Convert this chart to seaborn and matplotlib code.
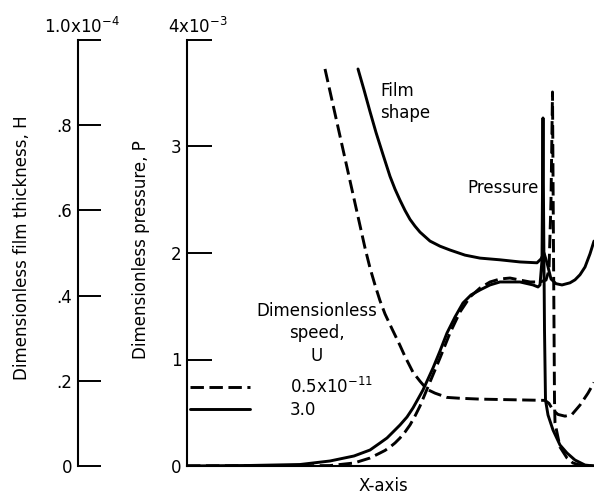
import matplotlib
matplotlib.use("Agg")
import matplotlib.pyplot as plt
import seaborn as sns
import numpy as np
import pandas as pd

# ---------------- data ----------------
# X in arbitrary units (axis has no tick marks); P in units of 1e-3; H in units of 1e-4
p_solid_x = [0, 0.63, 1.13, 1.43, 1.67, 1.83, 1.93, 2.00, 2.06, 2.13, 2.20, 2.26, 2.31,
             2.36, 2.41, 2.46, 2.53, 2.60, 2.68, 2.76, 2.84, 2.93, 3.03, 3.13, 3.33, 3.46,
             3.51, 3.53, 3.55, 3.56, 3.565, 3.575, 3.585, 3.61, 3.66, 3.73, 3.80, 3.88,
             3.98, 4.07]
p_solid_y = [0, 0.005, 0.014, 0.047, 0.094, 0.150, 0.216, 0.263, 0.319, 0.385, 0.460,
             0.545, 0.629, 0.714, 0.817, 0.920, 1.080, 1.249, 1.399, 1.531, 1.606, 1.653,
             1.700, 1.728, 1.728, 1.700, 1.681, 1.700, 1.934, 3.268, 2.498, 1.277, 0.620,
             0.479, 0.338, 0.197, 0.122, 0.056, 0.009, 0]

p_dash_x = [0, 1.13, 1.43, 1.67, 1.83, 1.93, 1.98, 2.03, 2.08, 2.13, 2.18, 2.23, 2.28,
            2.33, 2.38, 2.43, 2.53, 2.63, 2.73, 2.83, 2.93, 3.03, 3.13, 3.23, 3.33, 3.43,
            3.53, 3.59, 3.62, 3.64, 3.655, 3.665, 3.675, 3.68, 3.73, 3.80, 3.86, 3.93, 4.07]
p_dash_y = [0.002, 0.002, 0.004, 0.028, 0.075, 0.122, 0.146, 0.178, 0.216, 0.263, 0.319,
            0.385, 0.469, 0.563, 0.676, 0.789, 1.014, 1.249, 1.446, 1.587, 1.671, 1.728,
            1.756, 1.765, 1.746, 1.728, 1.728, 1.746, 1.840, 2.498, 3.512, 2.028, 0.620,
            0.404, 0.178, 0.075, 0.028, 0.009, 0]

h_solid_x = [1.71, 1.77, 1.83, 1.89, 1.96, 2.03, 2.08, 2.13, 2.18, 2.23, 2.28, 2.33, 2.43,
             2.53, 2.63, 2.78, 2.93, 3.13, 3.33, 3.50, 3.54, 3.57, 3.60, 3.64, 3.69, 3.75,
             3.83, 3.88, 3.93, 3.98, 4.03, 4.07]
h_solid_y = [0.932, 0.883, 0.832, 0.783, 0.731, 0.680, 0.650, 0.624, 0.600, 0.579, 0.563,
             0.549, 0.528, 0.516, 0.507, 0.495, 0.488, 0.484, 0.479, 0.477, 0.486, 0.500,
             0.477, 0.439, 0.428, 0.425, 0.430, 0.437, 0.449, 0.467, 0.498, 0.528]

h_dash_x = [1.38, 1.48, 1.58, 1.68, 1.78, 1.83, 1.88, 1.93, 1.98, 2.05, 2.13, 2.18, 2.26,
            2.33, 2.40, 2.48, 2.60, 2.73, 2.93, 3.58, 3.62, 3.66, 3.71, 3.78, 3.85, 3.93,
            4.01, 4.07]
h_dash_y = [0.932, 0.827, 0.722, 0.617, 0.512, 0.465, 0.425, 0.388, 0.357, 0.322, 0.283,
            0.257, 0.220, 0.199, 0.180, 0.171, 0.161, 0.159, 0.157, 0.154, 0.147, 0.131,
            0.121, 0.117, 0.121, 0.143, 0.171, 0.196]

p_ticks = [0, 1, 2, 3, 4]
p_ticklabels = ["0", "1", "2", "3", ""]
h_ticks = [0, 0.2, 0.4, 0.6, 0.8, 1.0]
h_ticklabels = ["0", ".2", ".4", ".6", ".8", ""]
legend_labels = ["0.5x10$^{-11}$", "3.0"]

# ---------------- figure ----------------
sns.set_theme(style="white")
plt.rcParams["font.family"] = ["DejaVu Sans"]
plt.rcParams["mathtext.fontset"] = "dejavusans"

W, H = 594, 496
fig = plt.figure(figsize=(W / 100, H / 100), dpi=100)
fig.patch.set_facecolor("white")

ax = fig.add_axes([187 / W, 30 / H, 407 / W, 426 / H])
ax.set_facecolor("none")
ax.set_xlim(0, 4.07)
ax.set_ylim(0, 4)

ax2 = ax.twinx()
ax2.set_ylim(0, 1.0)

LW = 2.1
DASH = (0, (4.6, 1.9))
common = dict(color="black", linewidth=LW, sort=False, estimator=None, legend=False,
              solid_joinstyle="round", dash_joinstyle="round")

sns.lineplot(x=p_dash_x, y=p_dash_y, ax=ax, linestyle=DASH, **common)
sns.lineplot(x=p_solid_x, y=p_solid_y, ax=ax, **common)
sns.lineplot(x=h_dash_x, y=h_dash_y, ax=ax2, linestyle=DASH, **common)
sns.lineplot(x=h_solid_x, y=h_solid_y, ax=ax2, **common)

# main (pressure) axis styling
for s in ["top", "right"]:
    ax.spines[s].set_visible(False)
for s in ["left", "bottom"]:
    ax.spines[s].set_color("black")
    ax.spines[s].set_linewidth(1.5)
ax.set_xticks([])
ax.set_yticks(p_ticks)
ax.set_yticklabels(p_ticklabels)
ax.tick_params(axis="y", direction="in", length=18, width=1.4, color="black",
               left=True, pad=4, labelsize=12, labelcolor="black")
ax.set_xlabel("")
ax.set_ylabel("")

# film thickness axis on far left
for s in ["top", "right", "bottom"]:
    ax2.spines[s].set_visible(False)
ax2.spines["left"].set_visible(True)
ax2.spines["left"].set_position(("axes", (78 - 187) / 407))
ax2.spines["left"].set_color("black")
ax2.spines["left"].set_linewidth(1.5)
ax2.yaxis.set_ticks_position("left")
ax2.yaxis.set_label_position("left")
ax2.set_yticks(h_ticks)
ax2.set_yticklabels(h_ticklabels)
ax2.tick_params(axis="y", direction="in", length=16.5, width=1.4, color="black",
                left=True, right=False, pad=4, labelsize=12, labelcolor="black")
ax2.set_ylabel("")

# legend
handles = ax.get_lines()[:2]
leg = ax.legend(handles, legend_labels, loc="upper left",
                bbox_to_anchor=(190 / W, 1 - 377 / H), bbox_transform=fig.transFigure,
                frameon=False, fontsize=12, handlelength=3.6, handletextpad=2.4,
                labelspacing=0.25, borderpad=0, borderaxespad=0)
for t in leg.get_texts():
    t.set_color("black")

def fx(px):
    return px / W

def fy(py):
    return 1 - py / H

fig.text(fx(317), fy(333.5), "Dimensionless\nspeed,\nU", ha="center", va="center",
         multialignment="center", linespacing=1.3, fontsize=12, color="black")
fig.text(fx(380), fy(102), "Film\nshape", ha="left", va="center", linespacing=1.3,
         fontsize=12, color="black")
fig.text(fx(539), fy(188), "Pressure", ha="right", va="center", fontsize=12, color="black")

fig.text(fx(82), fy(27), "1.0x10$^{-4}$", ha="center", va="center", fontsize=12, color="black")
fig.text(fx(198), fy(27), "4x10$^{-3}$", ha="center", va="center", fontsize=12, color="black")

fig.text(fx(22), fy(248), "Dimensionless film thickness, H", rotation=90, ha="center",
         va="center", fontsize=12, color="black")
fig.text(fx(141), fy(250), "Dimensionless pressure, P", rotation=90, ha="center",
         va="center", fontsize=12, color="black")
fig.text(fx(383), fy(486), "X-axis", ha="center", va="center", fontsize=12, color="black")

fig.savefig("out.png", dpi=100, facecolor="white")
